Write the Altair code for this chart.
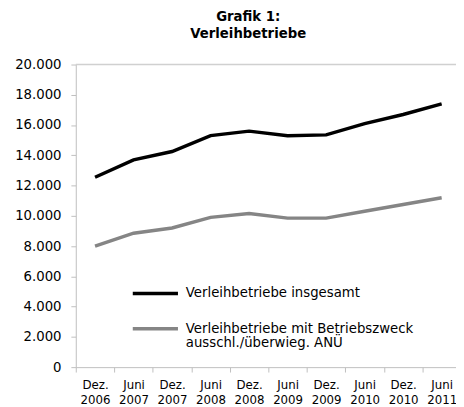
import altair as alt
import pandas as pd

periods = ["Dez. 2006", "Juni 2007", "Dez. 2007", "Juni 2008", "Dez. 2008",
           "Juni 2009", "Dez. 2009", "Juni 2010", "Dez. 2010", "Juni 2011"]
total = [12550, 13700, 14250, 15300, 15600, 15300, 15350, 16100, 16700, 17400]
anue = [8000, 8850, 9200, 9900, 10150, 9850, 9850, 10300, 10750, 11200]
series = ["Verleihbetriebe insgesamt",
          "Verleihbetriebe mit Betriebszweck ausschl./überwieg. ANÜ"]
colors = ["#000000", "#858585"]
y_ticks = list(range(0, 20001, 2000))

rows = []
for p, a, b in zip(periods, total, anue):
    rows.append({"period": p, "series": series[0], "value": a})
    rows.append({"period": p, "series": series[1], "value": b})
df = pd.DataFrame(rows)

FONT = "DejaVu Sans"
AX = "#bfbfbf"

label_expr = (
    f"datum.label == '{series[1]}' ? "
    "['Verleihbetriebe mit Betriebszweck', 'ausschl./überwieg. ANÜ'] : datum.label"
)

y_axis = alt.Axis(values=y_ticks, grid=False, domainColor=AX, tickColor=AX,
                  tickSize=5, labelPadding=10, labelFont=FONT, labelFontSize=13.5,
                  labelColor="#000000", labelOverlap=False, labelFlush=False,
                  labelExpr="replace(format(datum.value, ',d'), ',', '.')")
y_scale = alt.Scale(domain=[0, 20000], nice=False)

lines = alt.Chart(df).mark_line(strokeWidth=3.5).encode(
    x=alt.X("period:N", sort=periods, title=None,
            scale=alt.Scale(type="band", paddingInner=0, paddingOuter=0, range=[0, 392]),
            axis=alt.Axis(tickBand="extent", labelAngle=0, domainColor=AX, tickColor=AX,
                          tickSize=5, labelFont=FONT, labelFontSize=12, labelColor="#000000",
                          labelLineHeight=15, labelPadding=8, labelOverlap=False,
                          labelFlush=False,
                          labelExpr="datum.value ? split(datum.value, ' ') : ''")),
    y=alt.Y("value:Q", title=None, scale=y_scale, axis=y_axis),
    color=alt.Color("series:N", sort=series,
                    scale=alt.Scale(domain=series, range=colors),
                    legend=alt.Legend(title=None, orient="none", legendX=56, legendY=208,
                                      symbolType="stroke", symbolSize=2116,
                                      symbolStrokeWidth=3.5, labelFont=FONT,
                                      labelFontSize=13.5,
                                      labelBaseline="middle",
                                      labelOffset=6, labelLimit=400, rowPadding=4,
                                      padding=0, labelExpr=label_expr)),
)

top_rule = alt.Chart(pd.DataFrame({"v": [20000]})).mark_rule(color="#d0d0d0", strokeWidth=1.5).encode(
    y=alt.Y("v:Q", scale=y_scale, axis=y_axis)
)

chart = alt.layer(lines, top_rule).properties(
    width=387, height=308,
    title=alt.Title(["Grafik 1:", "Verleihbetriebe"], font=FONT, fontSize=13.5,
                    fontWeight="bold", lineHeight=17, anchor="middle", dx=-18, offset=18,
                    color="#000000"),
    autosize=alt.AutoSizeParams(type="none"),
    padding={"left": 69, "top": 54, "right": 0, "bottom": 36},
).configure(style={"guide-label": {"lineHeight": 15}}).configure_view(stroke=None)

chart.save("out.html", embed_options={"renderer": "svg", "actions": False})
